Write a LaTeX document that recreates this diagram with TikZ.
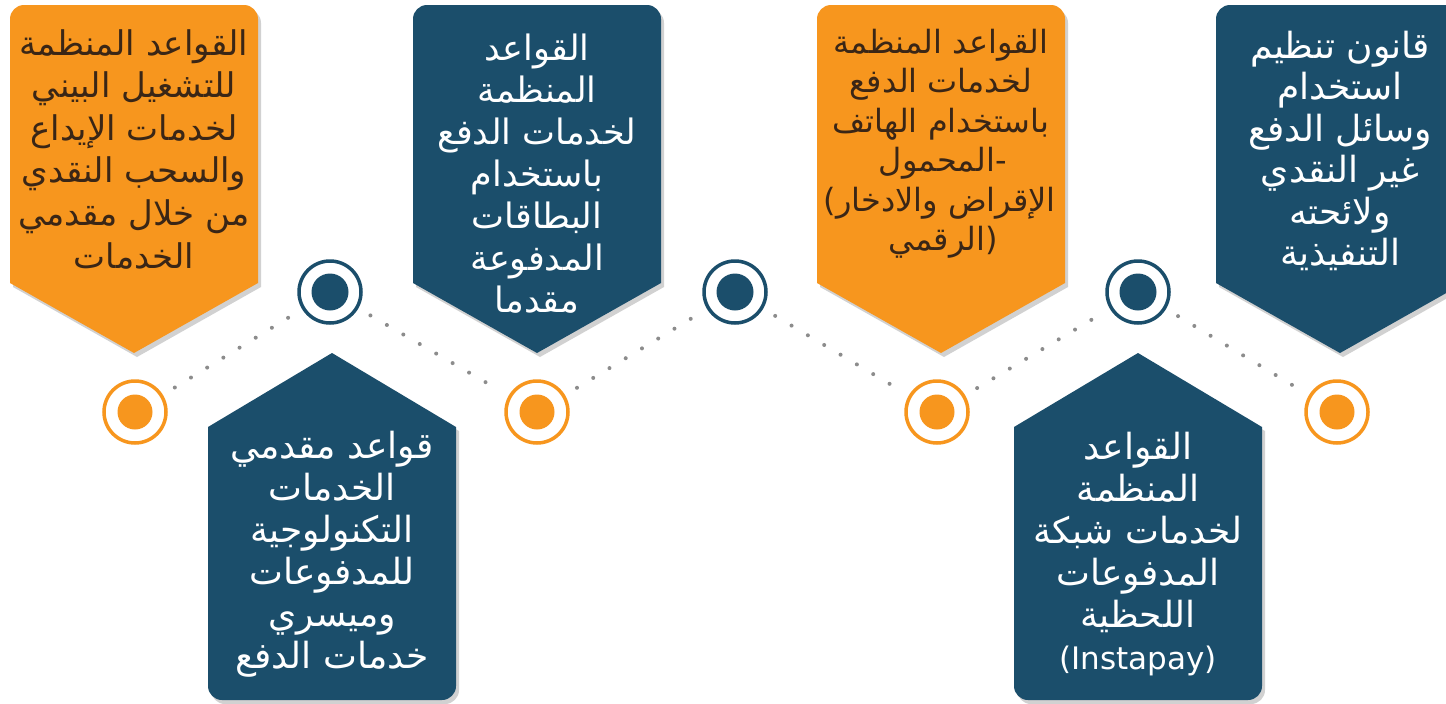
\documentclass[tikz,border=0pt]{standalone}
\usepackage{fontspec}
\usetikzlibrary{shadows}
\newfontfamily\arabicfont[Script=Arabic]{DejaVu Sans}
\newfontfamily\plainfont{DejaVu Sans}
\TeXXeTstate=1
\definecolor{navy}{HTML}{1B4E6B}
\definecolor{orng}{HTML}{F7961E}
\definecolor{brwn}{HTML}{3A2616}
\definecolor{dotgray}{HTML}{8C8C8C}
\tikzset{
  boxshadow/.style={drop shadow={shadow xshift=3pt,shadow yshift=-4pt,opacity=.18,fill=black}},
  lbl/.style={align=center,inner sep=0pt},
  onnavy/.style={lbl,text=white},
  onorng/.style={lbl,text=brwn},
  fs/.style 2 args={font=\arabicfont\fontsize{#1}{#2}\selectfont},
  ring/.style={circle,draw=#1,line width=3.5pt,fill=white,minimum size=62pt,inner sep=0pt},
  dotline/.style={draw=dotgray,line width=4pt,line cap=round,dash pattern=on 0pt off 19pt,shorten >=14pt,shorten <=14pt}
}
\newcommand\topbox[2]{%
  \fill[#2,boxshadow] (#1,353) -- ({#1-124},283) -- ({#1-124},19)
    .. controls ({#1-124},11.3) and ({#1-117.7},5) .. ({#1-110},5)
    -- ({#1+110},5) .. controls ({#1+117.7},5) and ({#1+124},11.3) .. ({#1+124},19)
    -- ({#1+124},283) -- cycle;}
\newcommand\botbox[2]{%
  \fill[#2,boxshadow] (#1,353) -- ({#1+124},427) -- ({#1+124},686)
    .. controls ({#1+124},693.7) and ({#1+117.7},700) .. ({#1+110},700)
    -- ({#1-110},700) .. controls ({#1-117.7},700) and ({#1-124},693.7) .. ({#1-124},686)
    -- ({#1-124},427) -- cycle;}
\begin{document}
\begin{tikzpicture}[x=1pt,y=-1pt]
\fill[white] (0,0) rectangle (1446,704);
\useasboundingbox (0,0) rectangle (1446,704);
\clip (0,0) rectangle (1446,704);

% boxes
\topbox{134}{orng}
\botbox{332}{navy}
\topbox{537}{navy}
\topbox{941}{orng}
\botbox{1138}{navy}
\topbox{1340}{navy}

% texts
\node[onorng,fs={34}{42.6}] (tA) at (134,149) {\beginR القواعد المنظمة\endR\\\beginR للتشغيل البيني\endR\\\beginR لخدمات الإيداع\endR\\\beginR والسحب النقدي\endR\\\beginR من خلال مقدمي\endR\\\beginR الخدمات\endR};
\node[onnavy,fs={36}{42}] (tB) at (332,554) {\beginR قواعد مقدمي\endR\\\beginR الخدمات\endR\\\beginR التكنولوجية\endR\\\beginR للمدفوعات\endR\\\beginR وميسري\endR\\\beginR خدمات الدفع\endR};
\node[onnavy,fs={35}{42}] (tC) at (537,174) {\beginR القواعد\endR\\\beginR المنظمة\endR\\\beginR لخدمات الدفع\endR\\\beginR باستخدام\endR\\\beginR البطاقات\endR\\\beginR المدفوعة\endR\\\beginR مقدما\endR};

% box D, one node per line
\begin{scope}[every node/.style={onorng,fs={32}{39}}]
\node[anchor=base] (d1) at (941,53) {\beginR القواعد المنظمة\endR};
\node[anchor=base] (d2) at (941,92.5) {\beginR لخدمات الدفع\endR};
\node[anchor=base] (d3) at (941,132) {\beginR باستخدام الهاتف\endR};
\node[anchor=base] (d4) at (937,171.5) {\beginR المحمول\endR};
\node[anchor=base] (d5) at (946,211) {\beginR الإقراض والادخار\endR};
\node[anchor=base] (d6) at (937,250.5) {\beginR الرقمي\endR};
\node[anchor=base west,font=\plainfont\fontsize{32}{39}\selectfont] (p4) at (d4.base east) {-};
\node[anchor=base east,font=\plainfont\fontsize{32}{39}\selectfont] (p5) at (d5.base west) {(};
\node[anchor=base west,font=\plainfont\fontsize{32}{39}\selectfont] (p6) at (d6.base east) {)};
\end{scope}

\node[onnavy,fs={36}{42}] (tE) at (1138,554) {\beginR القواعد\endR\\\beginR المنظمة\endR\\\beginR لخدمات شبكة\endR\\\beginR المدفوعات\endR\\\beginR اللحظية\endR\\{\plainfont\fontsize{31}{42}\selectfont (Instapay)}};
\node[onnavy,fs={36}{41.5}] (tF) at (1340,151) {\beginR قانون تنظيم\endR\\\beginR استخدام\endR\\\beginR وسائل الدفع\endR\\\beginR غير النقدي\endR\\\beginR ولائحته\endR\\\beginR التنفيذية\endR};

% circles
\node[ring=orng] (c1) at (135,412) {};
\node[ring=navy] (c2) at (330,292) {};
\node[ring=orng] (c3) at (537,412) {};
\node[ring=navy] (c4) at (735,292) {};
\node[ring=orng] (c5) at (937,412) {};
\node[ring=navy] (c6) at (1138,292) {};
\node[ring=orng] (c7) at (1337,412) {};
\fill[orng] (c1.center) circle (17.5);
\fill[navy] (c2.center) circle (18.5);
\fill[orng] (c3.center) circle (17.5);
\fill[navy] (c4.center) circle (18.5);
\fill[orng] (c5.center) circle (17.5);
\fill[navy] (c6.center) circle (18.5);
\fill[orng] (c7.center) circle (17.5);

% dotted connectors
\draw[dotline] (c1) -- (c2);
\draw[dotline] (c2) -- (c3);
\draw[dotline] (c3) -- (c4);
\draw[dotline] (c4) -- (c5);
\draw[dotline] (c5) -- (c6);
\draw[dotline] (c6) -- (c7);
\end{tikzpicture}
\end{document}
